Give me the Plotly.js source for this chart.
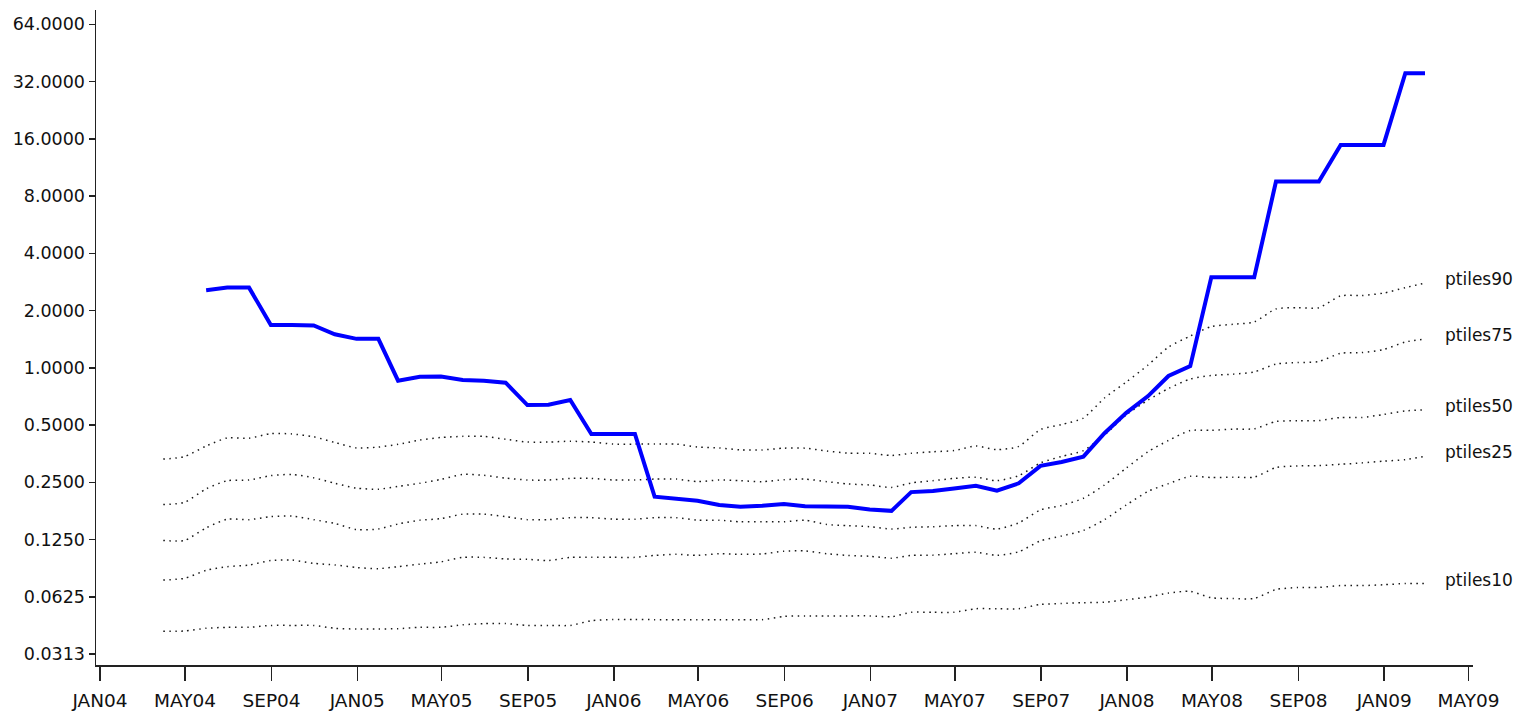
<!DOCTYPE html>
<html>
<head>
<meta charset="utf-8">
<script src="https://cdn.plot.ly/plotly-3.0.1.min.js"></script>
<style>
  html, body { margin: 0; padding: 0; background: #fff; }
  #chart { width: 1517px; height: 711px; }
</style>
</head>
<body>
<div id="chart"></div>
<script>
// Month-end dates of the percentile series
const monthEnds = [
  '2004-03-31','2004-04-30','2004-05-31','2004-06-30','2004-07-31','2004-08-31','2004-09-30','2004-10-31','2004-11-30','2004-12-31',
  '2005-01-31','2005-02-28','2005-03-31','2005-04-30','2005-05-31','2005-06-30','2005-07-31','2005-08-31','2005-09-30','2005-10-31','2005-11-30','2005-12-31',
  '2006-01-31','2006-02-28','2006-03-31','2006-04-30','2006-05-31','2006-06-30','2006-07-31','2006-08-31','2006-09-30','2006-10-31','2006-11-30','2006-12-31',
  '2007-01-31','2007-02-28','2007-03-31','2007-04-30','2007-05-31','2007-06-30','2007-07-31','2007-08-31','2007-09-30','2007-10-31','2007-11-30','2007-12-31',
  '2008-01-31','2008-02-29','2008-03-31','2008-04-30','2008-05-31','2008-06-30','2008-07-31','2008-08-31','2008-09-30','2008-10-31','2008-11-30','2008-12-31',
  '2009-01-31','2009-02-28'
];

const ptiles90 = [
  0.331,0.341,0.388,0.428,0.426,0.451,0.449,0.434,0.405,0.379,
  0.383,0.396,0.417,0.430,0.436,0.436,0.421,0.407,0.407,0.411,0.407,0.397,
  0.397,0.397,0.397,0.383,0.379,0.370,0.370,0.378,0.378,0.365,0.356,0.355,
  0.346,0.355,0.362,0.367,0.388,0.371,0.386,0.474,0.503,0.544,0.694,0.842,
  1.034,1.286,1.469,1.649,1.694,1.742,2.04,2.07,2.07,2.39,2.40,2.47,
  2.64,2.79
];
const ptiles75 = [
  0.191,0.196,0.231,0.255,0.257,0.271,0.275,0.264,0.247,0.233,
  0.230,0.238,0.247,0.259,0.275,0.272,0.263,0.257,0.257,0.262,0.262,0.257,
  0.257,0.260,0.260,0.252,0.257,0.255,0.252,0.258,0.260,0.252,0.245,0.242,
  0.235,0.248,0.255,0.262,0.266,0.255,0.271,0.316,0.342,0.367,0.443,0.565,
  0.677,0.778,0.873,0.911,0.926,0.951,1.047,1.065,1.079,1.193,1.202,1.247,
  1.367,1.417
];
const ptiles50 = [
  0.1236,0.1236,0.144,0.160,0.159,0.165,0.166,0.159,0.152,0.141,
  0.142,0.151,0.158,0.161,0.170,0.170,0.165,0.159,0.159,0.163,0.163,0.160,
  0.160,0.163,0.163,0.158,0.158,0.155,0.155,0.155,0.158,0.150,0.148,0.146,
  0.142,0.145,0.146,0.148,0.148,0.142,0.153,0.179,0.189,0.206,0.242,0.297,
  0.362,0.415,0.468,0.469,0.476,0.478,0.522,0.527,0.528,0.548,0.548,0.568,
  0.593,0.602
];
const ptiles25 = [
  0.0766,0.0781,0.0861,0.0900,0.0918,0.0970,0.0976,0.0937,0.0919,0.0891,
  0.0879,0.0900,0.0928,0.0955,0.1008,0.1008,0.0988,0.0984,0.0970,0.1008,0.1008,0.1008,
  0.1008,0.1032,0.1045,0.1032,0.1053,0.1045,0.1050,0.1086,0.1090,0.1053,0.1032,0.1021,
  0.0998,0.1032,0.1035,0.1053,0.1072,0.1032,0.1079,0.1231,0.1305,0.1395,0.159,0.190,
  0.224,0.246,0.269,0.265,0.266,0.266,0.299,0.305,0.306,0.311,0.316,0.323,
  0.329,0.342
];
const ptiles10 = [
  0.0412,0.0413,0.0427,0.0432,0.0432,0.0442,0.0442,0.0442,0.0427,0.0423,
  0.0423,0.0425,0.0432,0.0432,0.0445,0.0452,0.0452,0.0442,0.0442,0.0442,0.0468,0.0475,
  0.0475,0.0474,0.0474,0.0474,0.0474,0.0474,0.0474,0.0493,0.0496,0.0496,0.0496,0.0496,
  0.0491,0.0518,0.0518,0.0518,0.0541,0.0541,0.0541,0.0570,0.0576,0.0582,0.0585,0.0603,
  0.0623,0.0654,0.0668,0.0618,0.0612,0.0612,0.0683,0.0699,0.0700,0.0716,0.0716,0.0723,
  0.0734,0.0734
];

// Main (blue) series: May 2004 - Feb 2009
const valueDates = monthEnds.slice(2);
const values = [
  2.56,2.64,2.64,1.68,1.68,1.67,1.50,1.42,
  1.42,0.856,0.898,0.90,0.863,0.856,0.835,0.637,0.64,0.677,0.449,0.449,
  0.449,0.21,0.206,0.20,0.19,0.186,0.188,0.192,0.187,0.186,0.186,0.18,
  0.177,0.222,0.225,0.232,0.24,0.226,0.247,0.305,0.32,0.341,0.453,0.58,
  0.71,0.906,1.02,2.99,2.99,2.99,9.53,9.53,9.53,14.86,14.86,14.86,
  35.4,35.4
];

const yTickVals = [0.03125,0.0625,0.125,0.25,0.5,1,2,4,8,16,32,64];
const yTickText = ['0.0313','0.0625','0.1250','0.2500','0.5000','1.0000','2.0000','4.0000','8.0000','16.0000','32.0000','64.0000'];
const xTickVals = ['2004-01-01','2004-05-01','2004-09-01','2005-01-01','2005-05-01','2005-09-01','2006-01-01','2006-05-01','2006-09-01',
  '2007-01-01','2007-05-01','2007-09-01','2008-01-01','2008-05-01','2008-09-01','2009-01-01','2009-05-01'];
const xTickText = ['JAN04','MAY04','SEP04','JAN05','MAY05','SEP05','JAN06','MAY06','SEP06',
  'JAN07','MAY07','SEP07','JAN08','MAY08','SEP08','JAN09','MAY09'];

const pSeries = [
  {name: 'ptiles90', y: ptiles90},
  {name: 'ptiles75', y: ptiles75},
  {name: 'ptiles50', y: ptiles50},
  {name: 'ptiles25', y: ptiles25},
  {name: 'ptiles10', y: ptiles10}
];

const FONT = 'DejaVu Sans, Arial, sans-serif';

const traces = pSeries.map(s => ({
  type: 'scatter', mode: 'lines', x: monthEnds, y: s.y, name: s.name,
  line: {color: '#1a1a1a', width: 1.5, dash: '1.5px,4.5px', shape: 'spline', smoothing: 0.6},
  hoverinfo: 'skip'
}));
traces.push({
  type: 'scatter', mode: 'lines', x: valueDates, y: values, name: 'value',
  line: {color: '#0000ff', width: 4, shape: 'linear'},
  hoverinfo: 'skip'
});

const annotations = pSeries.map(s => ({
  x: monthEnds[monthEnds.length - 1], y: Math.log10(s.y[s.y.length - 1]),
  xref: 'x', yref: 'y', text: s.name, showarrow: false,
  xanchor: 'left', yanchor: 'middle', xshift: 18, yshift: 4,
  font: {family: FONT, size: 17, color: '#111'}
}));

const layout = {
  width: 1517, height: 711,
  margin: {l: 96, r: 44.3, t: 10, b: 46, pad: 0},
  paper_bgcolor: '#ffffff', plot_bgcolor: '#ffffff',
  showlegend: false,
  xaxis: {
    type: 'date',
    range: ['2003-12-26 07:00', '2009-05-07 07:00'],
    tickvals: xTickVals, ticktext: xTickText,
    ticks: 'outside', ticklen: 14, tickwidth: 1.5, tickcolor: '#222',
    showline: true, linecolor: '#222', linewidth: 1.5,
    showgrid: false, zeroline: false,
    tickfont: {family: FONT, size: 18.5, color: '#111'},
    ticklabelstandoff: 4
  },
  yaxis: {
    type: 'log',
    range: [-1.5627, 1.8814],
    tickvals: yTickVals, ticktext: yTickText,
    ticks: 'outside', ticklen: 6, tickwidth: 1.5, tickcolor: '#222',
    showline: true, linecolor: '#222', linewidth: 1.5,
    showgrid: false, zeroline: false,
    tickfont: {family: FONT, size: 17.5, color: '#111'}
  },
  annotations: annotations
};

Plotly.newPlot('chart', traces, layout, {staticPlot: true, displayModeBar: false});
</script>
</body>
</html>
